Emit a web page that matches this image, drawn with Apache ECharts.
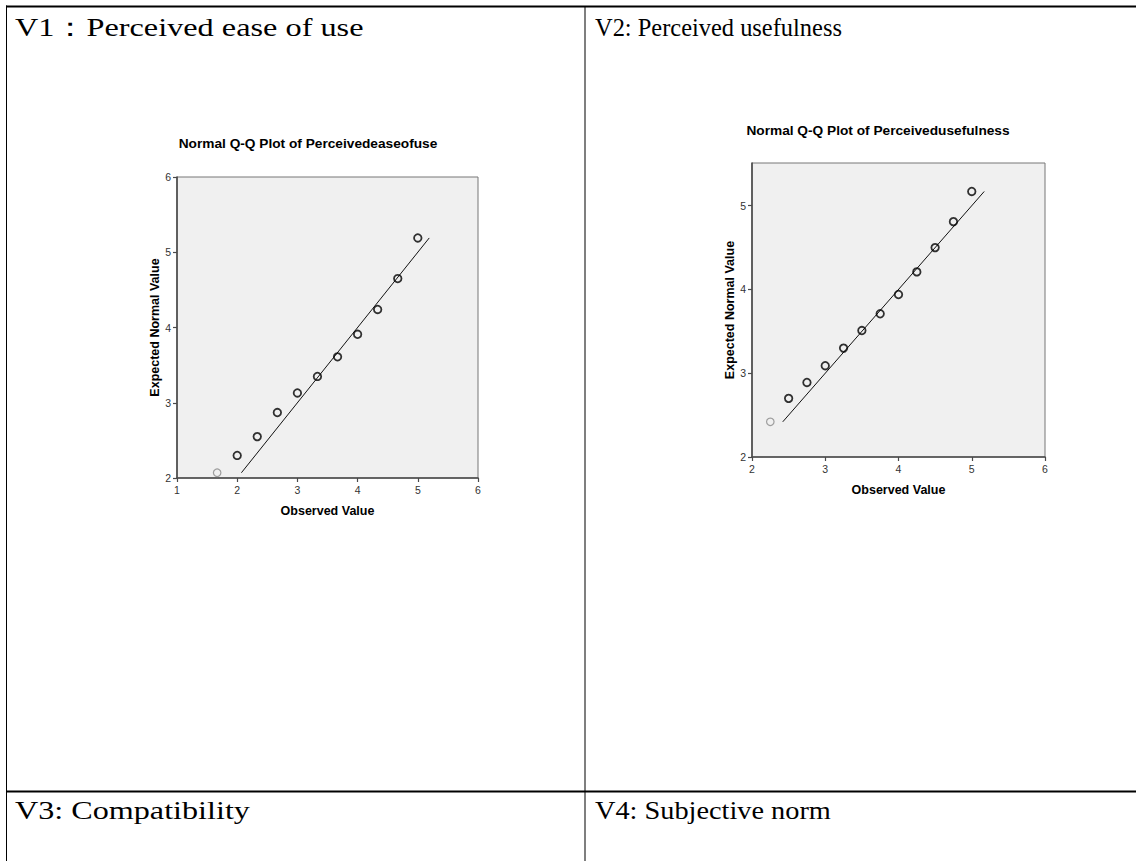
<!DOCTYPE html>
<html><head><meta charset="utf-8">
<script src="https://cdn.jsdelivr.net/npm/echarts@6/dist/echarts.min.js"></script>
<style>html,body{margin:0;padding:0;background:#fff}#c{width:1136px;height:861px}</style>
</head><body><div id="c"></div>
<script>
// ---- data ----
const cellTitles = ['V1：Perceived ease of use', 'V2: Perceived usefulness', 'V3: Compatibility', 'V4: Subjective norm'];
const plotTitles = ['Normal Q-Q Plot of Perceivedeaseofuse', 'Normal Q-Q Plot of Perceivedusefulness'];
const xAxisName = 'Observed Value';
const yAxisName = 'Expected Normal Value';

const v1Observed = [1.667, 2.0, 2.333, 2.667, 3.0, 3.333, 3.667, 4.0, 4.333, 4.667, 5.0];
const v1Expected = [2.07, 2.30, 2.55, 2.87, 3.13, 3.35, 3.61, 3.91, 4.24, 4.65, 5.19];
const v1LineEnds = [2.07, 5.19];
const v1XRange = [1, 6];
const v1YRange = [2, 6];
const v1XTicks = [1, 2, 3, 4, 5, 6];
const v1YTicks = [2, 3, 4, 5, 6];

const v2Observed = [2.25, 2.5, 2.75, 3.0, 3.25, 3.5, 3.75, 4.0, 4.25, 4.5, 4.75, 5.0];
const v2Expected = [2.42, 2.70, 2.89, 3.09, 3.30, 3.51, 3.71, 3.94, 4.21, 4.50, 4.81, 5.17];
const v2LineEnds = [2.42, 5.17];
const v2XRange = [2, 6];
const v2YRange = [2, 5.51];
const v2XTicks = [2, 3, 4, 5, 6];
const v2YTicks = [2, 3, 4, 5];

// ---- chart ----
const chart = echarts.init(document.getElementById('c'), null, {renderer: 'svg'});
const sans = 'Liberation Sans, Arial, sans-serif';
const serif = 'Liberation Serif, Times New Roman, serif';
const headFont = '26px ' + serif;

// header text boxes: [left, right, centerY] in page pixels
const headBoxes = [[15, 364, 27], [595, 842, 27], [15, 250, 810], [595, 831, 810]];
const mctx = document.createElement('canvas').getContext('2d');
mctx.font = headFont;
const headGraphics = cellTitles.map((t, i) => {
  const b = headBoxes[i];
  const w = mctx.measureText(t).width || 1;
  return {type: 'text', x: b[0], y: b[2], scaleX: (b[1] - b[0]) / w,
    style: {text: t, font: headFont, fill: '#000', verticalAlign: 'middle'}};
});

function axisCommon(gi, r, ticks, name, gap) {
  return {
    type: 'value', gridIndex: gi, min: r[0], max: r[1], interval: 1,
    name: name, nameLocation: 'middle', nameGap: gap,
    nameTextStyle: {fontFamily: sans, fontWeight: 'bold', fontSize: 12.5, color: '#000'},
    axisLine: {show: true, onZero: false, lineStyle: {color: '#4a4a4a', width: 1.6}},
    axisTick: {show: true, length: 4, customValues: ticks, lineStyle: {color: '#4a4a4a', width: 1.2}},
    axisLabel: {fontFamily: sans, fontSize: 10.5, color: '#333', margin: 6, customValues: ticks,
      formatter: v => ticks.indexOf(v) >= 0 ? String(v) : ''},
    splitLine: {show: false}
  };
}
function pts(xs, ys) {
  return xs.map((x, i) => i === 0
    ? {value: [x, ys[i]], itemStyle: {borderColor: '#8a8a8a', borderWidth: 1.2}}
    : [x, ys[i]]);
}
function scatterSeries(gi, xs, ys) {
  return {
    type: 'scatter', xAxisIndex: gi, yAxisIndex: gi, data: pts(xs, ys),
    symbol: 'circle', symbolSize: 7.5,
    itemStyle: {color: 'rgba(0,0,0,0)', borderColor: '#000', borderWidth: 1.8},
    silent: true, z: 3
  };
}
function lineSeries(gi, ends) {
  return {
    type: 'line', xAxisIndex: gi, yAxisIndex: gi,
    data: [[ends[0], ends[0]], [ends[1], ends[1]]],
    symbol: 'none', lineStyle: {color: '#111', width: 1}, silent: true, z: 2
  };
}

chart.setOption({
  animation: false,
  backgroundColor: '#fff',
  grid: [
    {left: 177, top: 177, width: 301, height: 301, show: true, backgroundColor: '#f0f0f0', borderColor: '#777', borderWidth: 1},
    {left: 752, top: 163, width: 293, height: 294, show: true, backgroundColor: '#f0f0f0', borderColor: '#777', borderWidth: 1}
  ],
  xAxis: [axisCommon(0, v1XRange, v1XTicks, xAxisName, 26), axisCommon(1, v2XRange, v2XTicks, xAxisName, 26)],
  yAxis: [axisCommon(0, v1YRange, v1YTicks, yAxisName, 15), axisCommon(1, v2YRange, v2YTicks, yAxisName, 16)],
  series: [
    lineSeries(0, v1LineEnds), scatterSeries(0, v1Observed, v1Expected),
    lineSeries(1, v2LineEnds), scatterSeries(1, v2Observed, v2Expected)
  ],
  graphic: [
    {type: 'rect', shape: {x: 6, y: 5.5, width: 1130, height: 2}, style: {fill: '#000'}, silent: true},
    {type: 'rect', shape: {x: 6, y: 5.5, width: 1, height: 856}, style: {fill: '#000'}, silent: true},
    {type: 'rect', shape: {x: 584.5, y: 6, width: 1, height: 855}, style: {fill: '#000'}, silent: true},
    {type: 'rect', shape: {x: 6, y: 790.5, width: 1130, height: 2}, style: {fill: '#000'}, silent: true},
    ...headGraphics,
    {type: 'text', x: 308, y: 143, style: {text: plotTitles[0], font: 'bold 13.7px ' + sans, fill: '#000', align: 'center', verticalAlign: 'middle'}},
    {type: 'text', x: 878, y: 130, style: {text: plotTitles[1], font: 'bold 13.7px ' + sans, fill: '#000', align: 'center', verticalAlign: 'middle'}}
  ]
});
</script>
</body></html>
